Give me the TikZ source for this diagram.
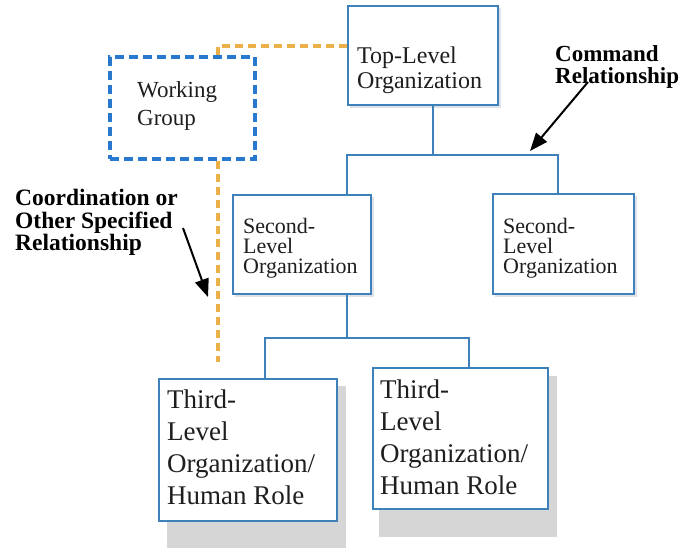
\documentclass[tikz,border=0pt]{standalone}
\usepackage{fontspec}
\setmainfont{Liberation Serif}
\usetikzlibrary{arrows.meta}
\definecolor{boxblue}{RGB}{62,128,186}
\definecolor{wgblue}{RGB}{40,120,205}
\definecolor{orng}{RGB}{236,176,72}
\definecolor{shadowgray}{RGB}{214,214,214}
\definecolor{lightshadow}{RGB}{222,225,230}
\definecolor{ink}{RGB}{30,30,30}
\begin{document}
\begin{tikzpicture}[x=1pt,y=-1pt,
  box/.style={draw=boxblue, line width=2pt, fill=white, anchor=north west, inner sep=0pt},
  wgbox/.style={draw=wgblue, line width=3.5pt, dash pattern=on 9pt off 5pt, fill=white, anchor=north west, inner sep=0pt},
  txt/.style={anchor=north west, inner sep=0pt, align=left, text=ink},
  lbl/.style={anchor=north west, inner sep=0pt, align=left, text=black, font=\bfseries},
  conn/.style={draw=boxblue, line width=2.5pt},
  coord/.style={draw=orng, line width=4pt, dash pattern=on 8pt off 5pt},
  pointer/.style={draw=black, line width=2pt, -{Triangle[length=18pt,width=14pt]}}]
\useasboundingbox (0,0) rectangle (693,550);
% shadows
\fill[lightshadow] (350,8) rectangle (501,108);
\fill[lightshadow] (235,197) rectangle (374,297);
\fill[lightshadow] (495,196) rectangle (637,297);
\fill[shadowgray] (167,386) rectangle (346,548);
\fill[shadowgray] (379,376) rectangle (557,537);
% boxes
\node[box, minimum width=150pt, minimum height=99pt] (tl) at (347,5) {};
\node[wgbox, minimum width=145pt, minimum height=102pt] (wg) at (108,55) {};
\node[box, minimum width=138pt, minimum height=99pt] (sl) at (232,194) {};
\node[box, minimum width=141pt, minimum height=100pt] (sr) at (492,193) {};
\node[box, minimum width=178pt, minimum height=142pt] (t1) at (158,378) {};
\node[box, minimum width=175pt, minimum height=141pt] (t2) at (372,367) {};
% texts
\node[txt, font=\fontsize{24}{25}\selectfont] (tlt) at (357,46.6) {Top-Level\\Organization};
\node[txt, font=\fontsize{23}{28}\selectfont] (wgt) at (137,81.3) {Working\\Group};
\node[txt, font=\fontsize{22}{20}\selectfont] (slt) at (243,218) {Second-\\Level\\Organization};
\node[txt, font=\fontsize{22}{20}\selectfont] (srt) at (503,218) {Second-\\Level\\Organization};
\node[txt, font=\fontsize{27}{32}\selectfont] (t1t) at (167,389.6) {Third-\\Level\\Organization/\\Human Role};
\node[txt, font=\fontsize{27}{32}\selectfont] (t2t) at (380,379.6) {Third-\\Level\\Organization/\\Human Role};
\node[lbl, font=\bfseries\fontsize{23}{22}\selectfont] (cmd) at (555,45) {Command\\Relationship};
\node[lbl, font=\bfseries\fontsize{23.5}{22.5}\selectfont] (crd) at (15,189) {Coordination or\\Other Specified\\Relationship};
% command connectors
\coordinate (b1) at (433,155);
\coordinate (b1l) at (347,155);
\coordinate (b1r) at (558,155);
\draw[conn] (tl.south -| b1) -- (b1);
\draw[conn] (sl.north -| b1l) -- (b1l) -- (b1r) -- (sr.north -| b1r);
\coordinate (b2) at (347,338);
\coordinate (b2l) at (265,338);
\coordinate (b2r) at (469,338);
\draw[conn] (sl.south -| b2) -- (b2);
\draw[conn] (t1.north -| b2l) -- (b2l) -- (b2r) -- (t2.north -| b2r);
% coordination connectors
\coordinate (o1) at (218,46);
\coordinate (o2) at (218,362);
\draw[coord] (tl.west |- o1) -- (o1) -- (wg.north -| o1);
\draw[coord] (wg.south -| o2) -- (o2);
% pointers
\coordinate (ca) at (588,82);
\coordinate (cb) at (530,151);
\draw[pointer] (ca) -- (cb);
\coordinate (da) at (183,228);
\coordinate (db) at (208,297);
\draw[pointer] (da) -- (db);
\end{tikzpicture}
\end{document}
